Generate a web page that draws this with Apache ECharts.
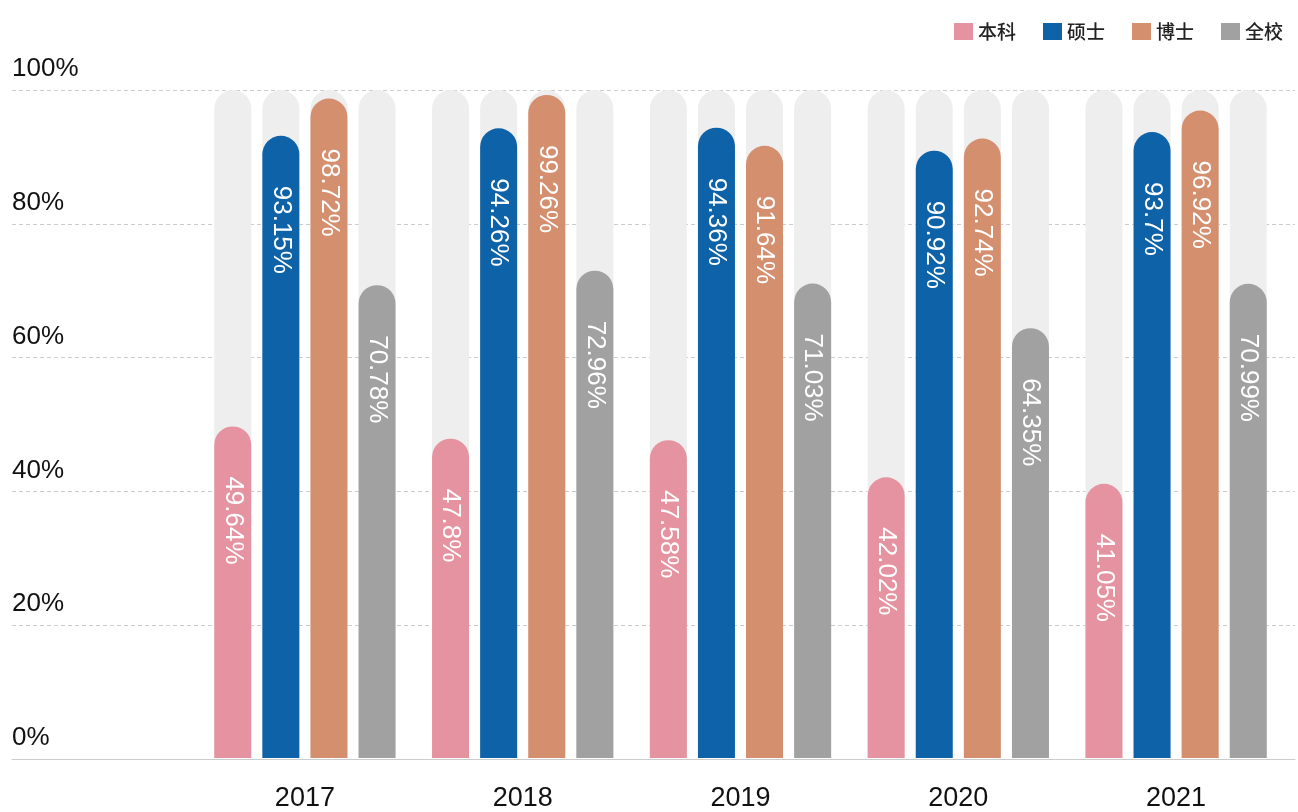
<!DOCTYPE html>
<html>
<head>
<meta charset="utf-8">
<script src="https://cdn.jsdelivr.net/npm/echarts@6/dist/echarts.min.js"></script>
<style>
html,body{margin:0;padding:0;background:#fff;}
#main{width:1298px;height:812px;}
</style>
</head>
<body>
<div id="main"></div>
<script>
const years = ['2017', '2018', '2019', '2020', '2021'];
const seriesNames = ['本科', '硕士', '博士', '全校'];
const undergrad = [49.64, 47.8, 47.58, 42.02, 41.05];
const master = [93.15, 94.26, 94.36, 90.92, 93.7];
const doctor = [98.72, 99.26, 91.64, 92.74, 96.92];
const overall = [70.78, 72.96, 71.03, 64.35, 70.99];
const yTicks = [0, 20, 40, 60, 80, 100];

const colors = ['#e593a0', '#0d62a8', '#d48f6f', '#a0a1a0'];
const values = [undergrad, master, doctor, overall];
const numFont = "'Liberation Sans', Arial, sans-serif";

const chart = echarts.init(document.getElementById('main'));

const barSeries = seriesNames.map((name, i) => ({
  name: name,
  type: 'bar',
  xAxisIndex: 1,
  yAxisIndex: 1,
  data: values[i],
  barWidth: 37,
  barGap: '30%',
  itemStyle: { color: colors[i], borderRadius: [19, 19, 0, 0] },
  showBackground: true,
  backgroundStyle: { color: '#eeeeee', borderRadius: [19, 19, 0, 0] },
  label: {
    show: true,
    position: 'insideTop',
    rotate: -90,
    align: 'left',
    verticalAlign: 'middle',
    distance: 50,
    color: '#ffffff',
    fontFamily: numFont,
    fontSize: 26,
    formatter: '{c}%'
  },
  emphasis: { disabled: true }
}));

chart.setOption({
  animation: false,
  color: colors,
  legend: {
    data: seriesNames,
    right: 10,
    top: 17,
    itemWidth: 19,
    itemHeight: 17,
    itemGap: 27,
    icon: 'rect',
    textStyle: { fontSize: 19, color: '#222', fontWeight: 500, fontFamily: "'Noto Sans CJK SC', sans-serif" }
  },
  grid: [
    { left: 12, right: 3, top: 90, bottom: 53 },
    { left: 196, right: 13, top: 90, bottom: 53 }
  ],
  xAxis: [
    {
      gridIndex: 0, type: 'value', min: 0, max: 1,
      axisLine: { show: true, lineStyle: { color: '#cccccc', width: 1 } },
      axisTick: { show: false }, axisLabel: { show: false }, splitLine: { show: false }
    },
    {
      gridIndex: 1, type: 'category', data: years,
      axisLine: { show: false }, axisTick: { show: false },
      axisLabel: { color: '#111', fontSize: 27, fontFamily: numFont, margin: 27 }
    }
  ],
  yAxis: [
    {
      gridIndex: 0, type: 'value', min: 0, max: 100, interval: 20,
      axisLine: { show: false }, axisTick: { show: false },
      splitLine: { show: true, lineStyle: { color: '#cccccc', type: [4, 3], width: 1 } },
      axisLabel: {
        inside: true, margin: 0, align: 'left', verticalAlign: 'bottom',
        padding: [0, 0, 8, 0],
        color: '#111', fontSize: 26, fontFamily: numFont,
        formatter: v => (yTicks.indexOf(v) >= 0 ? v + '%' : '')
      }
    },
    {
      gridIndex: 1, type: 'value', min: 0, max: 100, interval: 20, show: false,
      splitLine: { show: false }
    }
  ],
  series: barSeries
});
</script>
</body>
</html>
